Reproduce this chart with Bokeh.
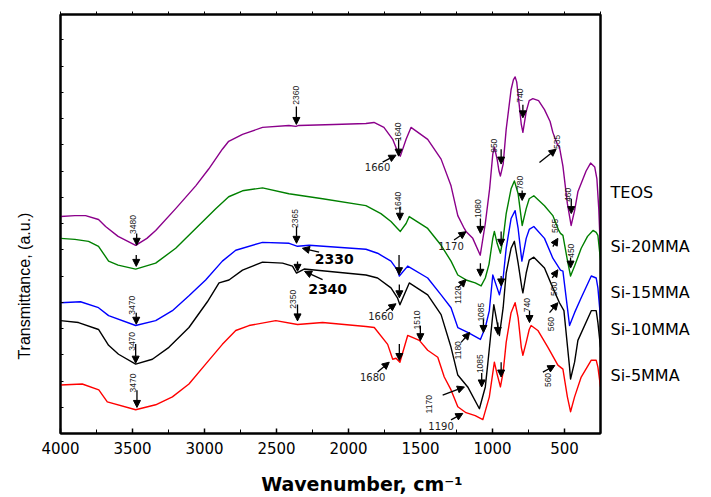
import math
from bokeh.plotting import figure
from bokeh.models import (Range1d, LinearAxis, SingleIntervalTicker, FixedTicker, Arrow,
                          NormalHead, ColumnDataSource, CustomLabelingPolicy)
from bokeh.core.properties import value
from bokeh.embed import file_html
from bokeh.resources import INLINE

# ---------------- data (wavenumber cm-1, transmittance a.u.) ----------------
teos_w = [4000, 3900, 3826, 3736, 3687, 3600, 3478, 3400, 3339, 3200, 3061, 2971, 2876, 2832,
          2736, 2597, 2414, 2365, 2345, 2100, 1879, 1823, 1754, 1693, 1660, 1640, 1600, 1566,
          1450, 1357, 1288, 1241, 1196, 1184, 1137, 1085, 1050, 1020, 998, 987, 968, 955, 945,
          926, 905, 871, 855, 843, 832, 822, 800, 789, 766, 745, 720, 680, 639, 600, 581, 550,
          535, 511, 480, 454, 430, 407, 350, 319, 290, 275, 262, 250]
teos_t = [219, 220, 220, 216, 209, 199, 190, 197, 205, 227, 250, 267, 287, 295,
          302, 309, 311, 310, 311, 312, 313, 314, 309, 297, 285, 280, 297, 309,
          297, 277, 250, 220, 207, 204, 197, 180, 212, 247, 282, 289, 277, 265, 260,
          272, 307, 347, 357, 360, 355, 342, 312, 304, 325, 336, 338, 336, 327, 315, 304, 292,
          289, 270, 232, 210, 225, 244, 265, 273, 269, 257, 227, 182]

si20_w = [4000, 3900, 3805, 3736, 3666, 3600, 3478, 3339, 3200, 3061, 2922, 2832, 2736, 2597,
          2414, 2180, 1879, 1775, 1705, 1660, 1640, 1600, 1578, 1450, 1357, 1288, 1241, 1184,
          1120, 1079, 1050, 1024, 998, 987, 968, 945, 926, 905, 871, 848, 822, 800, 794, 766,
          745, 713, 639, 581, 540, 528, 511, 480, 458, 430, 384, 340, 302, 280, 268, 250]
si20_t = [197, 196, 194, 189, 174, 170, 166, 172, 187, 207, 227, 239, 245, 248,
          242, 237, 230, 222, 214, 207, 204, 212, 219, 207, 190, 174, 160, 155,
          152, 149, 157, 171, 197, 204, 192, 182, 197, 222, 247, 255, 242, 217, 210, 227,
          237, 240, 230, 220, 205, 202, 200, 175, 159, 169, 187, 199, 205, 203, 200, 175]

si15_w = [4000, 3861, 3736, 3666, 3478, 3339, 3223, 3108, 2992, 2876, 2783, 2597, 2412, 2354,
          2273, 1879, 1798, 1705, 1660, 1647, 1589, 1450, 1357, 1288, 1241, 1172, 1084, 1050,
          1022, 998, 968, 952, 926, 905, 871, 843, 822, 800, 796, 766, 745, 713, 639, 581,
          528, 511, 480, 465, 430, 384, 314, 280, 268, 250]
si15_t = [132, 133, 127, 119, 109, 114, 124, 139, 155, 174, 185, 193, 192, 189,
          190, 186, 182, 174, 165, 159, 169, 157, 140, 127, 107, 102, 95, 107,
          124, 160, 147, 140, 157, 187, 217, 225, 207, 179, 174, 197, 206, 209, 197, 177,
          165, 164, 127, 109, 122, 137, 159, 157, 147, 117]

si10_w = [4000, 3875, 3736, 3666, 3597, 3478, 3362, 3247, 3108, 2980, 2899, 2830, 2736, 2597,
          2458, 2389, 2361, 2308, 1879, 1798, 1705, 1660, 1643, 1578, 1450, 1357, 1288, 1241,
          1172, 1091, 1050, 1033, 991, 968, 952, 926, 905, 871, 848, 822, 796, 789, 766, 745,
          713, 639, 581, 535, 504, 465, 458, 430, 407, 314, 280, 268, 250]
si10_t = [114, 112, 105, 89, 80, 70, 75, 87, 107, 133, 152, 155, 165, 173,
          172, 169, 162, 166, 160, 157, 147, 137, 130, 152, 140, 120, 87, 59,
          47, 25, 47, 70, 130, 112, 99, 127, 162, 187, 194, 172, 147, 142, 162, 175,
          178, 167, 147, 132, 124, 67, 55, 72, 94, 124, 124, 112, 87]

si5_w = [4000, 3849, 3734, 3675, 3478, 3339, 3223, 3108, 2992, 2876, 2783, 2691, 2505, 2354,
         2180, 1879, 1821, 1728, 1693, 1670, 1643, 1589, 1508, 1450, 1380, 1335, 1288, 1241,
         1184, 1120, 1067, 1022, 987, 968, 945, 926, 905, 871, 843, 822, 800, 789, 766, 745,
         732, 685, 615, 546, 511, 480, 458, 430, 384, 314, 280, 268, 250]
si5_t = [49, 50, 44, 32, 24, 29, 37, 50, 70, 90, 104, 109, 114, 110,
         112, 108, 107, 90, 75, 76, 72, 99, 94, 84, 77, 57, 44, 27,
         21, 18, 14, 37, 72, 60, 47, 62, 92, 122, 132, 117, 87, 79, 92, 105,
         109, 104, 87, 69, 65, 37, 22, 37, 57, 74, 74, 67, 47]

series_names = ["TEOS", "Si-20MMA", "Si-15MMA", "Si-10MMA", "Si-5MMA"]
series_w = [teos_w, si20_w, si15_w, si10_w, si5_w]
series_t = [teos_t, si20_t, si15_t, si10_t, si5_t]
series_colors = ["#8B008B", "#008000", "#0000FF", "#000000", "#FF0000"]
name_pos_t = [243, 189, 142, 105, 59]

x_title = "Wavenumber, cm\u207b\u00b9"
y_title = "Transmittance, (a.u.)"

# band annotations: rotated labels (text, wavenumber, t)
rot_text = ["2360", "3480", "1640", "950", "740", "535", "460", "1080",
            "1640", "780", "1120", "565", "450",
            "2365", "3470", "1085", "560",
            "3470", "1085", "1180", "560",
            "2350", "3470", "1510", "1170", "740", "560"]
rot_w = [2366, 3494, 1659, 991, 806, 551, 476, 1098,
         1654, 806, 1237, 563, 458,
         2371, 3501, 1079, 570,
         3506, 1086, 1243, 596,
         2385, 3497, 1524, 1439, 759, 615]
rot_t = [341.5, 211, 304.5, 290.5, 341, 294.5, 241, 227,
         234.5, 253, 140, 209.5, 184.5,
         217, 129.5, 122.5, 146,
         93, 70.5, 84, 110.5,
         135.5, 51, 114.5, 29.5, 129.5, 54]

hor_text = ["1660", "1170", "1660", "1680", "1190"]
hor_w = [1798, 1288, 1775, 1832, 1357]
hor_t = [269, 189, 118.7, 57.5, 8]

bold_text = ["2330", "2340"]
bold_w = [2099, 2145]
bold_t = [176.3, 146.3]

# arrows: start (w0,t0) -> head (w1,t1)
arr_w0 = [2362, 3471, 1652, 940, 789, 453, 1084,
          3474, 1643, 794, 1084, 940, 458,
          2361, 3474, 1649, 1063, 940,
          2354, 3478, 1647, 1075, 963,
          2354, 3469, 1647, 1501, 940, 743,
          1763, 674, 1267, 1241, 581, 2204, 1218, 585, 2180, 1740, 1346, 604, 1798, 1288, 650]
arr_t0 = [330, 202, 297, 287, 332, 237, 217,
          180.3, 229, 245.3, 172, 204, 177.7,
          208.7, 122, 180.3, 115.3, 159,
          173.7, 90.3, 150.3, 61, 112,
          130.3, 43.7, 90.3, 108.7, 72, 123.7,
          274, 273.7, 195.3, 147, 188.7, 183, 92, 157, 155.3, 123.7, 38.7, 122, 62, 13.7, 62]
arr_w1 = [2362, 3471, 1652, 940, 789, 453, 1084,
          3474, 1643, 794, 1084, 940, 458,
          2361, 3474, 1649, 1063, 940,
          2354, 3478, 1647, 1075, 963,
          2354, 3469, 1647, 1501, 940, 743,
          1670, 558, 1184, 1184, 546, 2320, 1158, 546, 2305, 1670, 1195, 546, 1717, 1206, 567]
arr_t1 = [312, 190, 280, 272, 318.7, 222, 202,
          168.7, 215.3, 235.3, 158.7, 189, 167,
          192, 110.3, 160.3, 102, 149,
          163.7, 71, 137, 47, 100,
          113.7, 26.3, 73.7, 93.7, 57, 112,
          281, 287, 203.7, 155.3, 197, 187, 102, 165.3, 163.7, 131, 47, 132, 72, 20.3, 68.7]

# ---------------- figure ----------------
p = figure(width=711, height=497, output_backend="svg", toolbar_location=None,
           x_range=Range1d(4000, 250), y_range=Range1d(0, 423),
           min_border_left=60, min_border_right=111, min_border_top=14, min_border_bottom=60,
           x_axis_location=None, y_axis_location=None)
p.grid.visible = False
p.outline_line_color = "black"
p.outline_line_width = 2
p.background_fill_color = "white"
p.border_fill_color = "white"

# bottom axis with tick labels
bottom = LinearAxis(ticker=SingleIntervalTicker(interval=500, num_minor_ticks=2))
bottom.axis_line_width = 2
bottom.major_tick_in = 5
bottom.major_tick_out = 0
bottom.minor_tick_in = 4
bottom.minor_tick_out = 0
bottom.major_tick_line_width = 1.5
bottom.major_label_standoff = 8
bottom.major_label_text_font = "DejaVu Sans"
bottom.major_label_text_font_size = "15px"
bottom.major_label_text_color = "black"
p.add_layout(bottom, "below")

# x title as an outer axis label placed at its data position
xtitle_axis = LinearAxis(ticker=FixedTicker(ticks=[1907]))
xtitle_axis.major_label_overrides = {1907: x_title}
xtitle_axis.axis_line_color = None
xtitle_axis.major_tick_line_color = None
xtitle_axis.minor_tick_line_color = None
xtitle_axis.major_label_standoff = 10
xtitle_axis.major_label_text_font = "DejaVu Sans"
xtitle_axis.major_label_text_font_style = "bold"
xtitle_axis.major_label_text_font_size = "19px"
xtitle_axis.major_label_text_color = "black"
p.add_layout(xtitle_axis, "below")

top = LinearAxis(ticker=SingleIntervalTicker(interval=250, num_minor_ticks=0))
top.axis_line_width = 2
top.major_tick_in = 0
top.major_tick_out = 3
top.major_label_text_font_size = "0px"
top.major_label_policy = CustomLabelingPolicy(code="return []")
top.major_label_standoff = 0
top.minor_tick_line_color = None
p.add_layout(top, "above")

left = LinearAxis(ticker=SingleIntervalTicker(interval=26.5, num_minor_ticks=0))
left.axis_line_width = 2
left.major_tick_in = 3
left.major_tick_out = 0
left.major_label_text_font_size = "0px"
left.major_label_policy = CustomLabelingPolicy(code="return []")
left.major_label_standoff = 0
left.minor_tick_line_color = None
p.add_layout(left, "left")

ytitle_axis = LinearAxis(ticker=FixedTicker(ticks=[223]))
ytitle_axis.major_label_overrides = {223: y_title}
ytitle_axis.major_label_orientation = math.pi / 2
ytitle_axis.axis_line_color = None
ytitle_axis.major_tick_line_color = None
ytitle_axis.minor_tick_line_color = None
ytitle_axis.major_label_standoff = 30
ytitle_axis.major_label_text_font = "Liberation Sans"
ytitle_axis.major_label_text_font_size = "16px"
ytitle_axis.major_label_text_color = "black"
p.add_layout(ytitle_axis, "left")

# right axis carries the series names
right = LinearAxis(ticker=FixedTicker(ticks=name_pos_t))
right.major_label_overrides = {t: n for t, n in zip(name_pos_t, series_names)}
right.axis_line_width = 2
right.major_tick_line_color = None
right.minor_tick_line_color = None
right.major_label_standoff = 4
right.major_label_text_font = "DejaVu Sans"
right.major_label_text_font_size = "16px"
right.major_label_text_color = "black"
p.add_layout(right, "right")

for w, t, c in zip(series_w, series_t, series_colors):
    p.line(w, t, line_color=c, line_width=1.4, line_join="round")

# arrows
asrc = ColumnDataSource(dict(x0=arr_w0, y0=arr_t0, x1=arr_w1, y1=arr_t1))
p.add_layout(Arrow(end=NormalHead(size=7, fill_color="black", line_color="black", line_width=1),
                   x_start="x0", y_start="y0", x_end="x1", y_end="y1",
                   source=asrc, line_color="black", line_width=1.3))

# rotated band labels
rsrc = ColumnDataSource(dict(x=rot_w, y=rot_t, text=rot_text))
p.text(x="x", y="y", text="text", source=rsrc, angle=math.pi / 2,
       text_font=value("Liberation Sans"), text_font_size="8.5px", text_color="#222222",
       text_align="center", text_baseline="middle")

hsrc = ColumnDataSource(dict(x=hor_w, y=hor_t, text=hor_text))
p.text(x="x", y="y", text="text", source=hsrc,
       text_font=value("DejaVu Sans"), text_font_size="10px", text_color="#222222",
       text_align="center", text_baseline="middle")

bsrc = ColumnDataSource(dict(x=bold_w, y=bold_t, text=bold_text))
p.text(x="x", y="y", text="text", source=bsrc,
       text_font=value("DejaVu Sans"), text_font_size="14px", text_font_style="bold",
       text_color="black", text_align="center", text_baseline="middle")

open("out.html", "w").write(file_html(p, INLINE))
